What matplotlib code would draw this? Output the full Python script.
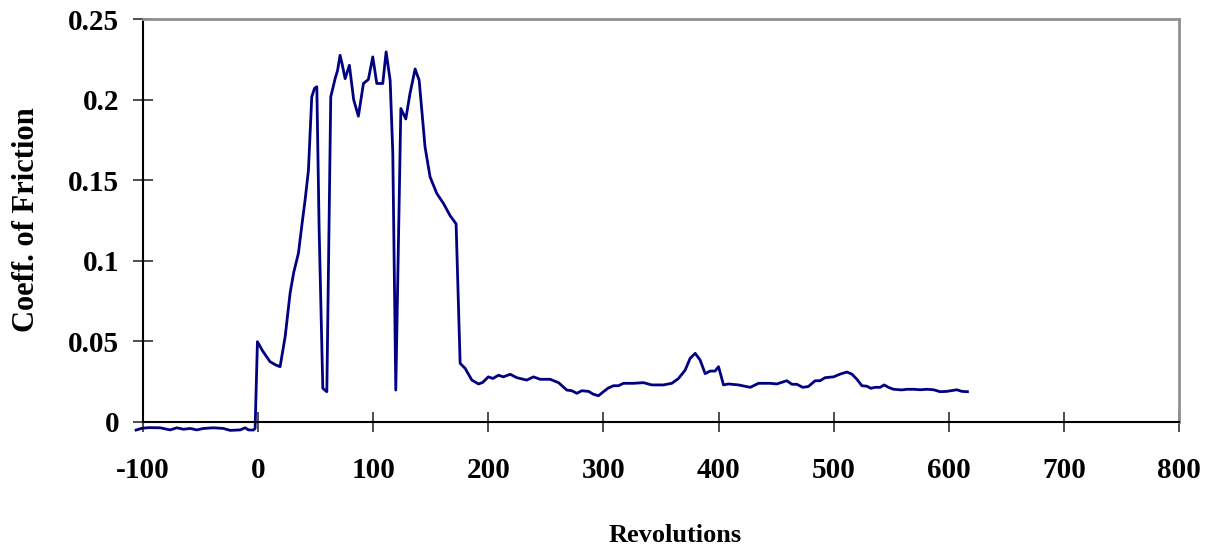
import numpy as np
import matplotlib.pyplot as plt

plt.rcParams['font.family'] = ['Liberation Serif', 'DejaVu Serif']

# revolutions vs coefficient of friction
revs = [-106, -101, -95, -85, -76.5, -70.6, -64.8, -59, -53.3, -47.5, -38.8, -30.1,
        -24.3, -15.6, -11.3, -8.4, -4.1, -2.6, -0.6, 4, 10.4, 15, 19.1, 23.5, 27.8,
        31, 35, 38, 40.8, 43.7, 46.6, 49, 51, 53, 56.2, 59.7, 63.1, 66.9, 69, 71.2,
        73, 75.6, 79.3, 83, 87.1, 91.5, 95.8, 99.6, 103.1, 108.3, 111.2, 114.7, 117,
        119.6, 124, 128.3, 132, 136.4, 139.9, 145, 149.4, 155.2, 161, 166.8, 172,
        175.5, 179.8, 185.7, 191.4, 195, 200, 203.9, 208.8, 213.1, 219, 224.7, 233.4,
        239.2, 245, 253.7, 261, 268.2, 272.5, 276.9, 281.2, 287, 291.3, 295.7, 300,
        304, 308.7, 313, 317.4, 326, 334.8, 342, 352, 359.4, 365.2, 371, 375.3, 379.7,
        384, 388.4, 392.7, 397, 400, 404.3, 408.6, 417.3, 427.5, 434.7, 444.8, 450.6,
        459.3, 463.7, 468, 473.2, 478, 483.9, 488.2, 492.6, 499.9, 505.6, 511.5,
        515.8, 520.2, 524.5, 528.9, 532.3, 536, 540.4, 543.9, 547.6, 552, 559.2,
        563.6, 569.4, 575.2, 581, 586.8, 592.5, 598.3, 607, 611.3, 616.2]
cof = [-0.005, -0.0039, -0.0035, -0.0036, -0.0049, -0.0036, -0.0045, -0.004, -0.0049,
       -0.004, -0.0036, -0.004, -0.0052, -0.0049, -0.0036, -0.0049, -0.005, -0.004,
       0.0498, 0.044, 0.0374, 0.0355, 0.0343, 0.053, 0.080, 0.093, 0.1046, 0.122,
       0.1376, 0.156, 0.2017, 0.207, 0.208, 0.12, 0.0209, 0.0188, 0.2017, 0.213,
       0.218, 0.2275, 0.222, 0.213, 0.2213, 0.200, 0.1897, 0.21, 0.2125, 0.2265,
       0.21, 0.21, 0.2296, 0.212, 0.167, 0.0198, 0.1945, 0.188, 0.204, 0.219, 0.212,
       0.1707, 0.152, 0.1418, 0.1356, 0.128, 0.1229, 0.0364, 0.0333, 0.026, 0.0236,
       0.0245, 0.028, 0.027, 0.029, 0.028, 0.0296, 0.0275, 0.026, 0.028, 0.0265,
       0.0265, 0.0244, 0.0198, 0.0194, 0.0178, 0.0194, 0.019, 0.0172, 0.0163,
       0.0188, 0.021, 0.0225, 0.0225, 0.024, 0.024, 0.0244, 0.023, 0.023, 0.024,
       0.027, 0.0322, 0.0395, 0.0426, 0.0384, 0.030, 0.0316, 0.0316, 0.0343, 0.023,
       0.0236, 0.023, 0.0215, 0.024, 0.024, 0.0236, 0.0256, 0.0234, 0.0234, 0.0215,
       0.022, 0.0256, 0.0256, 0.0275, 0.028, 0.0297, 0.031, 0.0297, 0.0265, 0.0225,
       0.0222, 0.0209, 0.0215, 0.0215, 0.023, 0.0215, 0.0203, 0.0199, 0.0203,
       0.0203, 0.02, 0.0203, 0.02, 0.0188, 0.019, 0.02, 0.019, 0.0188]

x_ticks = [-100, 0, 100, 200, 300, 400, 500, 600, 700, 800]
y_ticks = [0, 0.05, 0.1, 0.15, 0.2, 0.25]
y_tick_labels = ['0', '0.05', '0.1', '0.15', '0.2', '0.25']

fig = plt.figure(figsize=(12.18, 5.59), dpi=100)
ax = fig.add_axes([143/1218, 1 - 422/559, (1179 - 143)/1218, (422 - 19)/559])

ax.plot(revs, cof, color='#000080', lw=2.0, clip_on=False)

ax.set_xlim(-100, 800)
ax.set_ylim(0, 0.25)
ax.set_xticks(x_ticks)
ax.set_xticklabels([str(t) for t in x_ticks])
ax.set_yticks(y_ticks)
ax.set_yticklabels(y_tick_labels)

ax.tick_params(axis='both', direction='inout', length=14, width=1.3, color='#404040',
               labelsize=21)
ax.tick_params(axis='x', pad=18)
ax.tick_params(axis='y', pad=10)
for lab in ax.get_xticklabels() + ax.get_yticklabels():
    lab.set_fontweight('bold')

for side in ['left', 'bottom']:
    ax.spines[side].set_color('black')
    ax.spines[side].set_linewidth(1.5)
for side in ['top', 'right']:
    ax.spines[side].set_color('#909090')
    ax.spines[side].set_linewidth(2)

fig.text(675/1218, 1 - 535/559, 'Revolutions', ha='center', va='center',
         fontsize=19, fontweight='bold')
fig.text(27/1218, 1 - 220/559, 'Coeff. of Friction', ha='center', va='center',
         rotation=90, fontsize=22, fontweight='bold')

fig.savefig('out.png', dpi=100)
